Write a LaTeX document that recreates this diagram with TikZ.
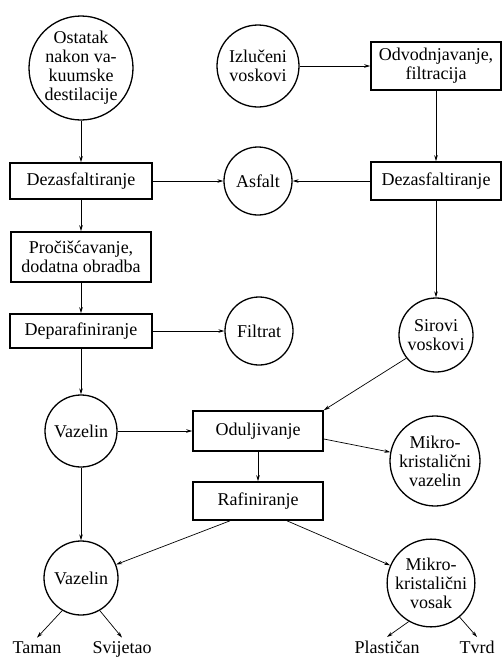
\documentclass[tikz,border=0pt]{standalone}
\usepackage{fontspec}
\setmainfont{Liberation Serif}
\usetikzlibrary{arrows.meta}

\begin{document}
\begin{tikzpicture}[x=1pt, y=-1pt, font=\fontsize{18}{19}\selectfont,
    >={Stealth[length=6pt, width=3.5pt]},
    blok/.style={draw, line width=1.6pt, align=center, inner sep=0pt},
    krug/.style={draw, circle, line width=1.3pt, align=center, inner sep=0pt},
    tok/.style={->, line width=0.7pt}]
    \useasboundingbox (0,0) rectangle (502,659);

    % lijevi stupac
    \node[krug, minimum size=104pt] (ostatak) at (81,68) {Ostatak\\nakon va-\\kuumske\\destilacije};
    \node[blok, minimum width=142pt, minimum height=36pt] (dezL) at (81,181) {Dezasfaltiranje};
    \node[blok, minimum width=140pt, minimum height=50pt] (procisc) at (81,257) {Pročišćavanje,\\dodatna obradba};
    \node[blok, minimum width=142pt, minimum height=34pt] (depar) at (81,331) {Deparafiniranje};
    \node[krug, minimum size=72pt] (vazelinA) at (81,431) {Vazelin};
    \node[krug, minimum size=74pt] (vazelinB) at (81,578) {Vazelin};

    % srednji stupac
    \node[krug, minimum size=82pt] (izluceni) at (258,66) {Izlučeni\\voskovi};
    \node[krug, minimum size=68pt] (asfalt) at (258,181) {Asfalt};
    \node[krug, minimum size=68pt] (filtrat) at (259,331) {Filtrat};
    \node[blok, minimum width=130pt, minimum height=40pt] (odulj) at (258,431) {Oduljivanje};
    \node[blok, minimum width=130pt, minimum height=38pt] (rafin) at (258,501) {Rafiniranje};

    % desni stupac
    \node[blok, minimum width=130pt, minimum height=48pt] (odvod) at (436,66) {Odvodnjavanje,\\filtracija};
    \node[blok, minimum width=130pt, minimum height=38pt] (dezR) at (436,181) {Dezasfaltiranje};
    \node[krug, minimum size=74pt] (sirovi) at (436,335) {Sirovi\\voskovi};
    \node[krug, minimum size=90pt] (mkvazelin) at (435,461) {Mikro-\\kristalični\\vazelin};
    \node[krug, minimum size=84pt] (mkvosak) at (431,583) {Mikro-\\kristalični\\vosak};

    % vrste
    \node[anchor=base] (taman) at (37,653) {Taman};
    \node[anchor=base] (svijetao) at (122,653) {Svijetao};
    \node[anchor=base] (plastican) at (387,653) {Plastičan};
    \node[anchor=base] (tvrd) at (477,653) {Tvrd};

    \draw[tok] (ostatak) -- (dezL);
    \draw[tok] (dezL) -- (asfalt);
    \draw[tok] (dezR) -- (asfalt);
    \draw[tok] (izluceni) -- (odvod);
    \draw[tok] (odvod) -- (dezR);
    \draw[tok] (dezL) -- (procisc);
    \draw[tok] (procisc) -- (depar);
    \draw[tok] (depar) -- (filtrat);
    \draw[tok] (depar) -- (vazelinA);
    \draw[tok] (dezR) -- (sirovi);
    \draw[tok] (vazelinA) -- (odulj);
    \draw[tok] (sirovi.-142) -- (odulj.north east);
    \draw[tok] (odulj) -- (rafin);
    \draw[tok] ([yshift=-8pt]odulj.east) -- (mkvazelin);
    \draw[tok] (vazelinA) -- (vazelinB);
    \draw[tok] ([xshift=-28pt]rafin.south) -- (vazelinB);
    \draw[tok] ([xshift=29pt]rafin.south) -- (mkvosak);

    \draw[tok] (vazelinB.-120) -- (taman.north);
    \draw[tok] (vazelinB.-60) -- (svijetao.north);
    \draw[tok] (mkvosak.-120) -- (plastican.north);
    \draw[tok] (mkvosak.-50) -- (tvrd.north);
\end{tikzpicture}
\end{document}
